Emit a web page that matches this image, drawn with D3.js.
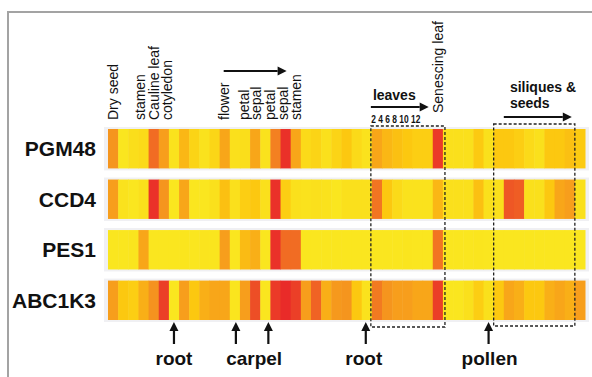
<!DOCTYPE html>
<html>
<head>
<meta charset="utf-8">
<script src="https://cdn.jsdelivr.net/npm/d3@7"></script>
<style>
  body { margin: 0; background: #fff; }
  text { font-family: "Liberation Sans", Arial, sans-serif; fill: #111; }
</style>
</head>
<body>
<svg id="chart" width="592" height="377"></svg>
<script>
// expression values (0 = low/yellow, 1 = high/red), one per sample column
const genes = ["PGM48", "CCD4", "PES1", "ABC1K3"];
const pgm48 = [0.6,0.05,0.12,0.15,0.75,0.55,0.08,0.4,0.2,0.08,0.18,0.5,0.1,0.12,0.5,0.08,0.68,0.95,0.5,0.15,0.2,0.1,0.2,0.3,0.15,0.08,0.5,0.4,0.35,0.3,0.25,0.25,0.92,0.1,0.1,0.1,0.28,0.1,0.3,0.3,0.25,0.15,0.1,0.3,0.3,0.35,0.28];
const ccd4  = [0.55,0.08,0.05,0.1,0.95,0.6,0.05,0.5,0.05,0.05,0.1,0.35,0.1,0.25,0.3,0.1,0.95,0.25,0.1,0.08,0.1,0.08,0.05,0.1,0.1,0.1,0.72,0.3,0.15,0.08,0.08,0.08,0.4,0.1,0.1,0.1,0.35,0.1,0.1,0.82,0.8,0.1,0.1,0.3,0.5,0.55,0.1];
const pes1  = [0.05,0.05,0.06,0.5,0.05,0.05,0.05,0.06,0.05,0.07,0.06,0.55,0.05,0.38,0.45,0.05,0.95,0.75,0.75,0.05,0.05,0.05,0.05,0.05,0.05,0.05,0.05,0.05,0.05,0.06,0.05,0.05,0.72,0.05,0.05,0.05,0.06,0.05,0.05,0.05,0.05,0.05,0.05,0.05,0.05,0.05,0.05];
const abc1k3 = [0.55,0.3,0.25,0.45,0.62,0.9,0.05,0.55,0.3,0.45,0.5,0.5,0.06,0.55,0.85,0.05,0.92,0.97,0.9,0.55,0.78,0.45,0.58,0.6,0.3,0.08,0.7,0.6,0.55,0.55,0.5,0.5,0.9,0.05,0.05,0.1,0.25,0.1,0.3,0.5,0.45,0.3,0.3,0.45,0.5,0.45,0.55];
const series = [pgm48, ccd4, pes1, abc1k3];

// tissue labels on top, positioned in column units
const topLabels = [
  { text: "Dry seed", pos: 0.5 }, { text: "stamen", pos: 3.15 },
  { text: "Cauline leaf", pos: 4.5 }, { text: "cotyledon", pos: 5.8 },
  { text: "flower", pos: 11.4 }, { text: "petal", pos: 13.4 },
  { text: "sepal", pos: 14.6 }, { text: "petal", pos: 16.0 },
  { text: "sepal", pos: 17.3 }, { text: "stamen", pos: 18.5 }
];
const bottomArrows = [6.5, 12.6, 15.8, 25.4, 37.5];
const bottomLabels = [
  { text: "root", pos: 6.5 }, { text: "carpel", pos: 14.4 },
  { text: "root", pos: 25.2 }, { text: "pollen", pos: 37.6 }
];
const leafAges = ["2", "4", "6", "8", "10", "12"];
const leafBox = [25.9, 33.2];
const siliqueBox = [38.0, 46.0];

const nCols = pgm48.length;
const svg = d3.select("#chart");

const x = d3.scaleBand().domain(d3.range(nCols)).range([108, 585]).padding(0);
const xPos = d3.scaleLinear().domain([0, nCols]).range([108, 585]);
const y = d3.scaleBand().domain(genes).range([129, 320]).paddingInner(0.22);
const color = d3.scaleLinear()
  .domain([0, 0.3, 0.62, 1])
  .range(["#f9ec22", "#fcc810", "#f5921f", "#e8222a"]);

// frame
svg.append("path")
  .attr("d", "M8,377V12H592")
  .attr("fill", "none").attr("stroke", "#a3a3a3").attr("stroke-width", 2);

// row backgrounds
svg.selectAll("rect.bg").data(genes).enter().append("rect")
  .attr("x", 104).attr("width", 485)
  .attr("y", d => y(d) - 2).attr("height", y.bandwidth() + 4)
  .attr("fill", "#f0f0f3");

// heatmap cells
genes.forEach((g, i) => {
  svg.append("g").selectAll("rect").data(series[i]).enter().append("rect")
    .attr("x", (d, j) => x(j))
    .attr("width", x.bandwidth() + 0.5)
    .attr("y", y(g))
    .attr("height", y.bandwidth())
    .attr("fill", d => color(d));
});

// gene labels
svg.selectAll("text.gene").data(genes).enter().append("text")
  .attr("x", 96).attr("y", d => y(d) + y.bandwidth() / 2)
  .attr("dy", "0.35em").attr("text-anchor", "end")
  .style("font-size", "21px").style("font-weight", "bold")
  .text(d => d);

// rotated tissue labels
svg.selectAll("text.top").data(topLabels).enter().append("text")
  .attr("transform", d => `translate(${xPos(d.pos)},120) rotate(-90)`)
  .attr("dy", "0.35em")
  .style("font-size", "14px")
  .text(d => d.text);
svg.append("text")
  .attr("transform", `translate(${xPos(32.5)},113) rotate(-90)`)
  .attr("dy", "0.35em")
  .style("font-size", "14px")
  .text("Senescing leaf");

function arrow(x1, y1, x2, y2) {
  const ang = Math.atan2(y2 - y1, x2 - x1);
  const L = 9, W = 4.5;
  const bx = x2 - L * Math.cos(ang), by = y2 - L * Math.sin(ang);
  svg.append("line").attr("x1", x1).attr("y1", y1).attr("x2", bx).attr("y2", by)
    .attr("stroke", "#111").attr("stroke-width", 2.2);
  svg.append("path")
    .attr("d", `M${x2},${y2}L${bx - W * Math.sin(ang)},${by + W * Math.cos(ang)}L${bx + W * Math.sin(ang)},${by - W * Math.cos(ang)}Z`)
    .attr("fill", "#111");
}

// flower arrow
arrow(xPos(11.4), 71, xPos(17.6), 71);

// leaves annotation
svg.append("text").attr("x", xPos(26.1)).attr("y", 100)
  .style("font-size", "14px").style("font-weight", "bold").text("leaves");
arrow(xPos(25.9), 107, xPos(31.6), 107);
svg.append("text").attr("x", xPos(25.95)).attr("y", 123)
  .attr("textLength", 49).attr("lengthAdjust", "spacingAndGlyphs")
  .style("font-size", "11px").style("font-weight", "bold")
  .text(leafAges.join(" "));

// siliques annotation
svg.append("text").attr("x", xPos(39.6)).attr("y", 92)
  .style("font-size", "14px").style("font-weight", "bold").text("siliques &");
svg.append("text").attr("x", xPos(39.6)).attr("y", 108)
  .style("font-size", "14px").style("font-weight", "bold").text("seeds");
arrow(xPos(39.0), 117, xPos(45.7), 117);

// dashed boxes
[[leafBox, 126, 327], [siliqueBox, 124, 326]].forEach(([b, t, bt]) => {
  svg.append("rect")
    .attr("x", xPos(b[0])).attr("y", t)
    .attr("width", xPos(b[1]) - xPos(b[0])).attr("height", bt - t)
    .attr("fill", "none").attr("stroke", "#222")
    .attr("stroke-width", 1.3).attr("stroke-dasharray", "3,2");
});

// bottom arrows + labels
bottomArrows.forEach(p => arrow(xPos(p), 344, xPos(p), 322));
svg.selectAll("text.bottom").data(bottomLabels).enter().append("text")
  .attr("x", d => xPos(d.pos)).attr("y", 365)
  .attr("text-anchor", "middle")
  .style("font-size", "19px").style("font-weight", "bold")
  .text(d => d.text);
</script>
</body>
</html>
